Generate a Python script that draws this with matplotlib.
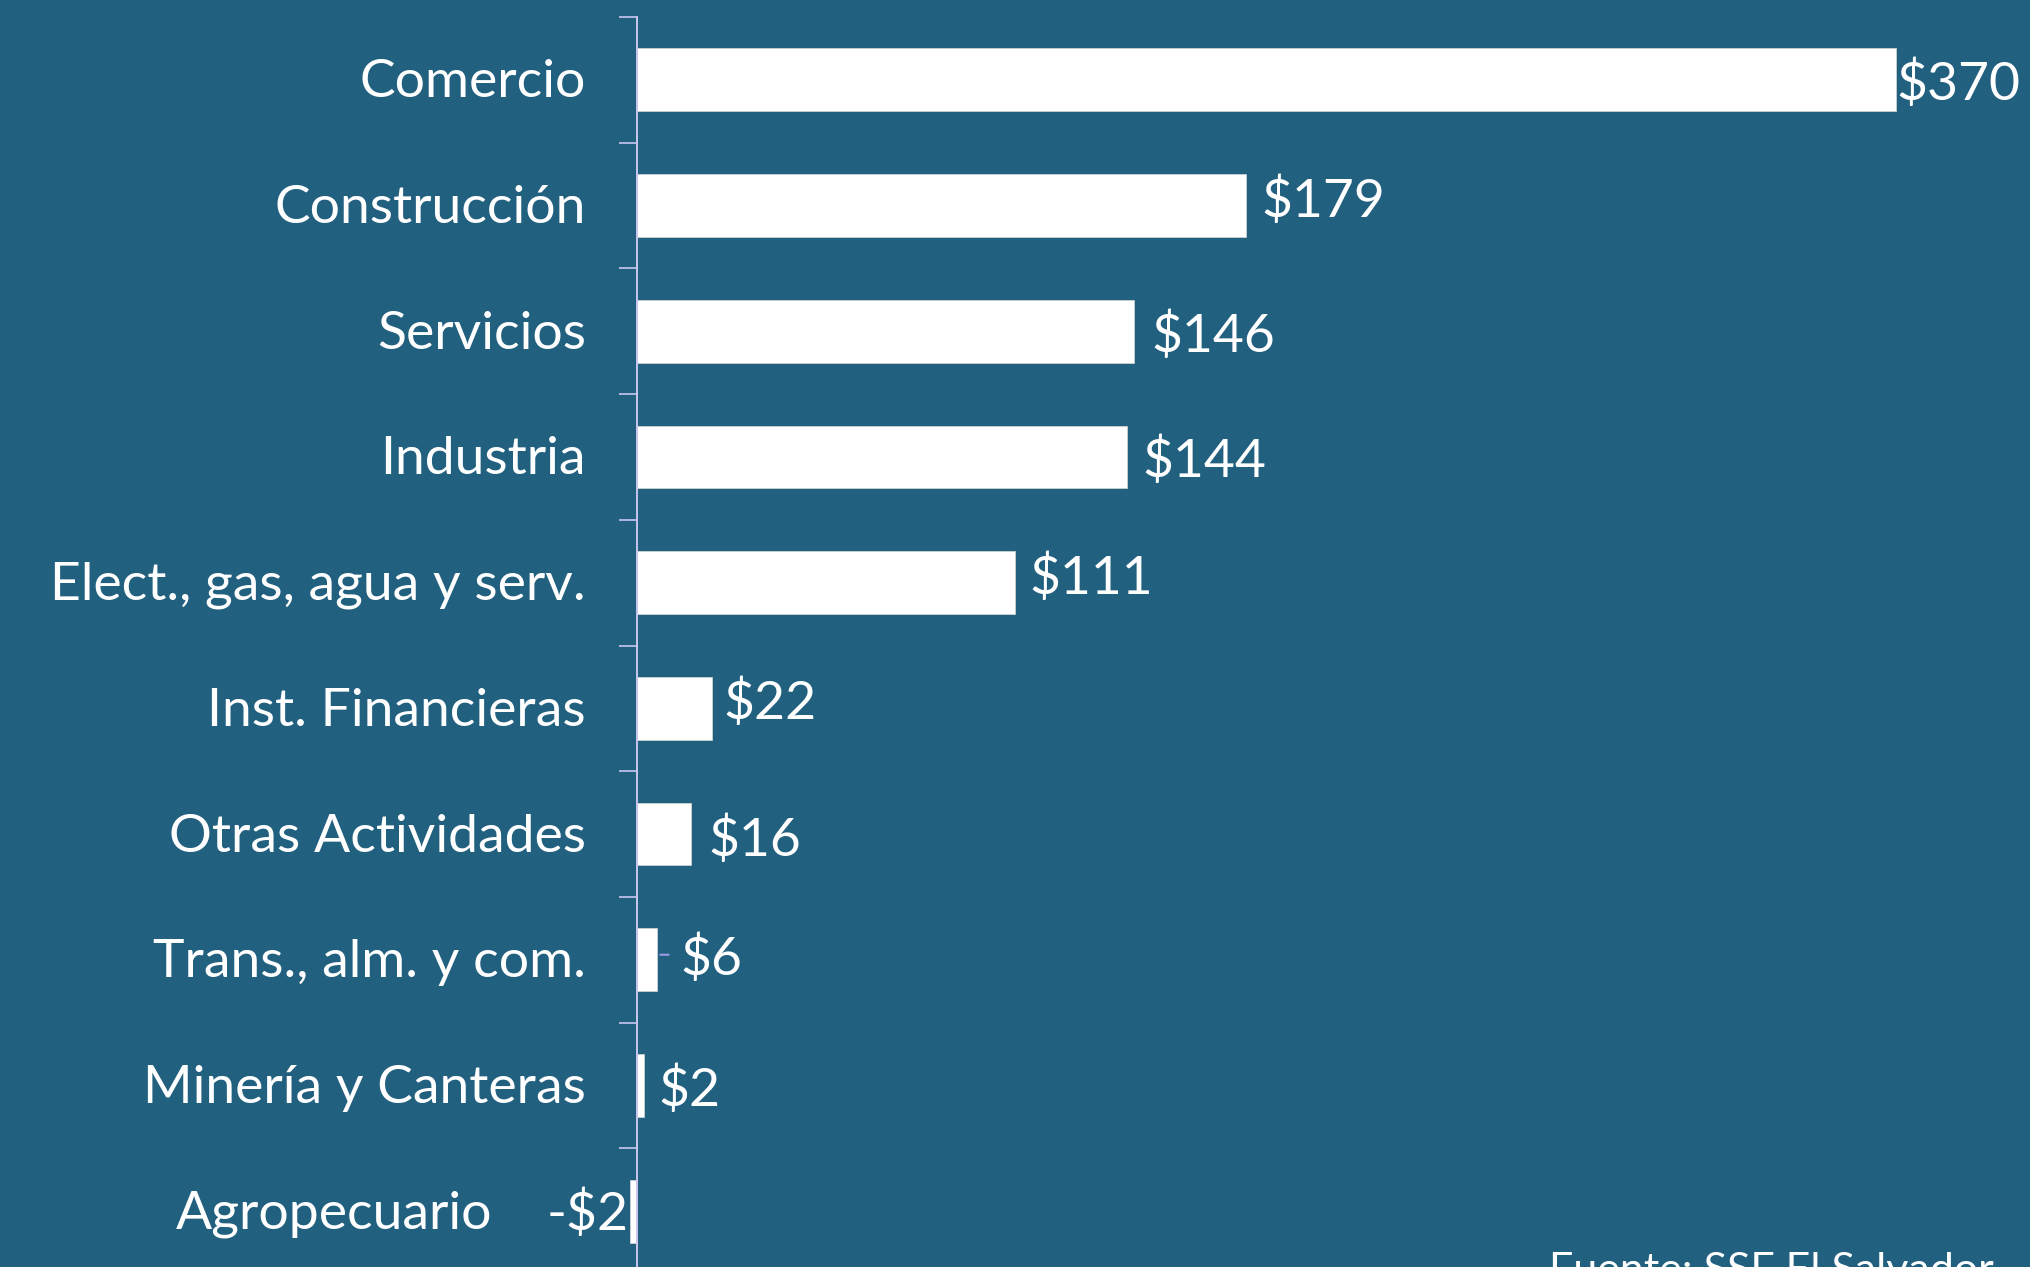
import matplotlib.pyplot as plt
import matplotlib.transforms as mtransforms
import numpy as np

# data (millones de US$)
categories = ["Comercio", "Construcción", "Servicios", "Industria",
              "Elect., gas, agua y serv.", "Inst. Financieras",
              "Otras Actividades", "Trans., alm. y com.",
              "Minería y Canteras", "Agropecuario"]
values = [370, 179, 146, 144, 111, 22, 16, 6, 2, -2]
value_labels = ["$370", "$179", "$146", "$144", "$111", "$22", "$16",
                "$6", "$2", "-$2"]
source = "Fuente: SSF El Salvador"

# label nudges in pixels (dx, dy), dy positive = up
label_nudge = [(0, -4), (15, 4), (17, -5), (15, -4), (15, 4),
               (12, 5), (17, -6), (23, 1), (15, -5), (-1, -3)]

BG = "#22607f"
AXIS = "#c9c6f0"
FONT = ["Lato", "DejaVu Sans"]
FS = 38.5

plt.rcParams["font.family"] = FONT
DPI = 100
fig = plt.figure(figsize=(20.30, 12.67), dpi=DPI, facecolor=BG)
ax = fig.add_axes([637 / 2030, 1 - 1274 / 1267, 1 - 637 / 2030, 1257 / 1267])
ax.set_facecolor(BG)

y = np.arange(len(categories))
bars = ax.barh(y, values, height=0.5, color="white", edgecolor="#d8d8d8",
               linewidth=0.5, clip_on=False, zorder=2)

ax.set_xlim(0, 1393 / 3.404)
ax.set_ylim(len(categories) - 0.5, -0.5)

for s in ["top", "right", "bottom"]:
    ax.spines[s].set_visible(False)
ax.spines["left"].set_color(AXIS)
ax.spines["left"].set_linewidth(1.4)
ax.spines["left"].set_zorder(3)
ax.set_xticks([])
ax.set_yticks(np.arange(-0.5, len(categories), 1))
ax.set_yticklabels([])
ax.tick_params(axis="y", length=13, width=1.2, color=AXIS, direction="out")

px = 72 / DPI

# category labels, placed left of the axis
ytrans = ax.get_yaxis_transform()
for i, cat in enumerate(categories):
    shift = -145 if values[i] < 0 else -51
    off = mtransforms.ScaledTranslation(shift / DPI, -3 / DPI, fig.dpi_scale_trans)
    ax.text(0, i, cat, transform=ytrans + off, ha="right", va="center",
            fontsize=FS, color="white")

# value labels
for i, (v, lab) in enumerate(zip(values, value_labels)):
    dx, dy = label_nudge[i]
    ax.annotate(lab, (v, i), xytext=(dx * px, dy * px),
                textcoords="offset points", ha="right" if v < 0 else "left",
                va="center", fontsize=FS, color="white", annotation_clip=False)

# small leader line for the tiny transport bar
i6 = values.index(6)
ax.annotate("", xy=(values[i6], i6 - 0.04), xytext=(values[i6] + 4.1, i6 - 0.04),
            arrowprops=dict(arrowstyle="-", color="#9f9be6", lw=1.5))

fig.text(1994 / 2030, 1 - 1252 / 1267, source, ha="right", va="top",
         fontsize=31, color="white")

fig.savefig("out.png", dpi=DPI, facecolor=BG)
